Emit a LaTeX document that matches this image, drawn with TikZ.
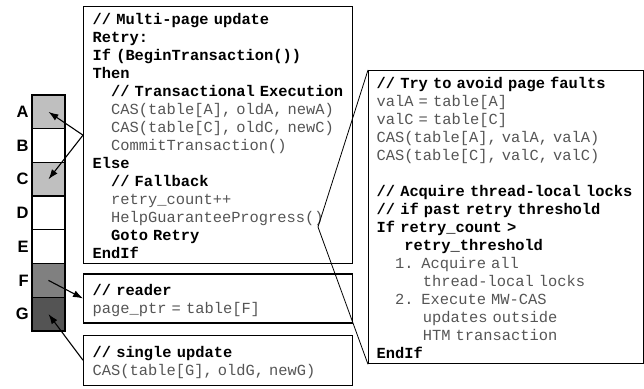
\documentclass[tikz,border=0pt]{standalone}
\usepackage{fontspec}
\usepackage{tikz}
\usetikzlibrary{positioning, arrows.meta}
\newfontfamily\codefont{Liberation Mono}
\newfontfamily\tagfont{Liberation Sans}
\definecolor{codegray}{RGB}{85,85,85}
\newcommand{\kwd}[1]{{\bfseries\color{black}#1}}
\newcommand{\ind}[1]{\hspace*{#1\fontcharwd\font`x}}
\newcommand{\codelines}[1]{\raisebox{-2.5pt}[\height][\depth]{%
  \begin{tabular}{@{}l@{}}#1\end{tabular}}}
\tikzstyle{cell} = [rectangle,
minimum width=33pt,
minimum height=33.7pt,
inner sep=0pt,
line width=1.3pt,
draw=black,
fill=white]
\tikzstyle{tag} = [inner sep=2.5pt,
font=\tagfont\bfseries\fontsize{16.5}{18}\selectfont]
\tikzstyle{codebox} = [rectangle,
line width=1.3pt,
draw=black,
align=left,
inner ysep=0pt,
text=codegray,
font=\codefont\fontsize{15.4}{18}\selectfont]
\tikzstyle{arrow} = [line width=1.1pt,-{Latex[length=10pt,width=7pt]}]
\tikzstyle{callout} = [line width=0.8pt]

\begin{document}
\begin{tikzpicture}[x=1pt, y=1pt, node distance=33.7pt]
\useasboundingbox (0,0) rectangle (644,388);

% page table
\node (cA) [cell, fill=black!25] at (48.5,276.1) {};
\node (cB) [cell, below of=cA] {};
\node (cC) [cell, fill=black!25, below of=cB] {};
\node (cD) [cell, below of=cC] {};
\node (cE) [cell, below of=cD] {};
\node (cF) [cell, fill=black!50, below of=cE] {};
\node (cG) [cell, fill=black!67, below of=cF] {};
\node (lA) [tag, left=0pt of cA] {A};
\node (lB) [tag, left=0pt of cB] {B};
\node (lC) [tag, left=0pt of cC] {C};
\node (lD) [tag, left=0pt of cD] {D};
\node (lE) [tag, left=0pt of cE] {E};
\node (lF) [tag, left=0pt of cF] {F};
\node (lG) [tag, left=0pt of cG] {G};

% code boxes
\node (multi) [codebox, anchor=north west, text width=251pt, inner xsep=9pt,
  minimum height=257pt] at (83,382) {\codelines{%
\kwd{// Multi-page update}\\
\kwd{Retry:}\\
\kwd{If (BeginTransaction())}\\
\kwd{Then}\\
\ind{2}\kwd{// Transactional Execution}\\
\ind{2}CAS(table[A], oldA, newA)\\
\ind{2}CAS(table[C], oldC, newC)\\
\ind{2}CommitTransaction()\\
\kwd{Else}\\
\ind{2}\kwd{// Fallback}\\
\ind{2}retry\_count++\\
\ind{2}HelpGuaranteeProgress()\\
\ind{2}\kwd{Goto Retry}\\
\kwd{EndIf}}};
\node (reader) [codebox, text width=251pt, inner xsep=9pt,
  minimum height=49pt, below=9pt of multi] {\codelines{%
\kwd{// reader}\\
page\_ptr = table[F]}};
\node (single) [codebox, text width=251pt, inner xsep=9pt,
  minimum height=50pt, below=11pt of reader] {\codelines{%
\kwd{// single update}\\
CAS(table[G], oldG, newG)}};
\node (fix) [codebox, anchor=north west, text width=259pt, inner xsep=8pt,
  minimum height=293pt] at (368,318) {\codelines{%
\kwd{// Try to avoid page faults}\\
valA = table[A]\\
valC = table[C]\\
CAS(table[A], valA, valA)\\
CAS(table[C], valC, valC)\\
\\
\kwd{// Acquire thread-local locks}\\
\kwd{// if past retry threshold}\\
\kwd{If retry\_count >}\\
\ind{3}\kwd{retry\_threshold}\\
\ind{2}1. Acquire all\\
\ind{5}thread-local locks\\
\ind{2}2. Execute MW-CAS\\
\ind{5}updates outside\\
\ind{5}HTM transaction\\
\kwd{EndIf}}};

% callout to HelpGuaranteeProgress()
\coordinate (pin) at (318,161);
\draw [callout] (fix.north west) -- (pin) -- (fix.south west);

% arrows
\draw [arrow] (multi.west) -- (cA.center);
\draw [arrow] (multi.west) -- (cC.center);
\draw [arrow] (cF.center) -- (reader.west);
\draw [arrow] (single.west) -- (cG.center);

\end{tikzpicture}
\end{document}
